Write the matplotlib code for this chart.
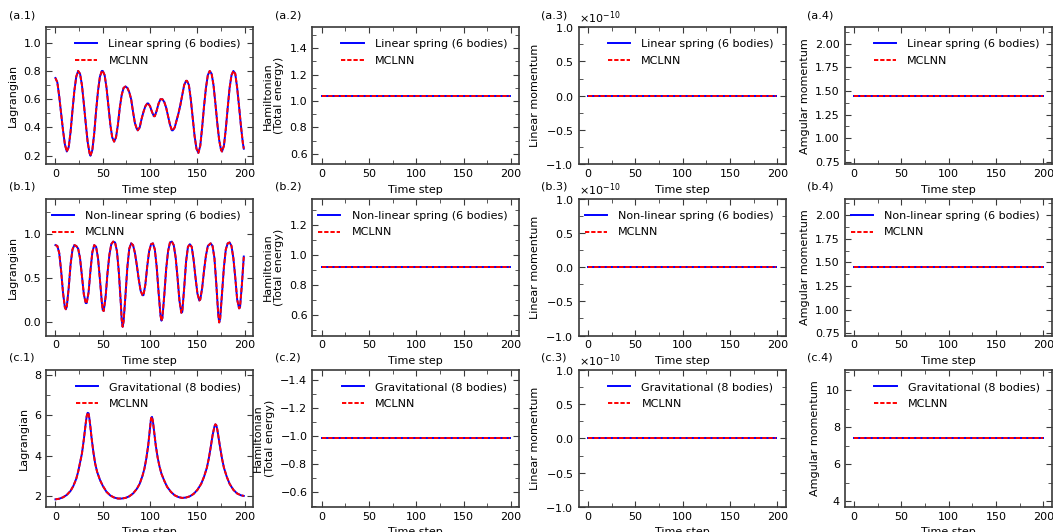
import numpy as np
import matplotlib
matplotlib.use('Agg')
import matplotlib.pyplot as plt
from matplotlib.ticker import MultipleLocator, AutoMinorLocator

### DATA
steps = np.arange(200)

# (a) linear spring, 6 bodies
t_a1 = [0, 2, 4, 6, 8, 10, 12, 14, 16, 18, 20, 22, 24, 26, 28, 30, 32, 34, 36, 37,
        39, 41, 43, 45, 47, 49, 50, 52, 54, 56, 58, 60, 62, 64, 66, 68, 70, 72, 74,
        76, 78, 80, 82, 84, 86, 87, 89, 91, 93, 95, 97, 98, 100, 102, 104, 105, 107,
        109, 111, 113, 115, 117, 119, 121, 123, 124, 126, 128, 130, 132, 134, 136, 138,
        139, 141, 143, 145, 147, 149, 151, 153, 155, 157, 159, 161, 163, 165, 167, 169,
        171, 173, 175, 176, 178, 180, 182, 184, 186, 188, 190, 192, 194, 196, 198, 199]
L_a1 = [0.75, 0.72, 0.62, 0.50, 0.38, 0.28, 0.23, 0.26, 0.37, 0.52, 0.66, 0.76, 0.80,
        0.78, 0.70, 0.57, 0.43, 0.30, 0.22, 0.20, 0.24, 0.36, 0.52, 0.66, 0.76, 0.80,
        0.80, 0.77, 0.68, 0.55, 0.42, 0.33, 0.30, 0.33, 0.42, 0.54, 0.63, 0.68, 0.69,
        0.68, 0.65, 0.60, 0.51, 0.43, 0.39, 0.38, 0.40, 0.46, 0.51, 0.55, 0.57, 0.57,
        0.55, 0.51, 0.48, 0.48, 0.52, 0.57, 0.60, 0.60, 0.58, 0.54, 0.48, 0.42, 0.38,
        0.38, 0.40, 0.45, 0.50, 0.56, 0.63, 0.70, 0.73, 0.73, 0.70, 0.60, 0.47, 0.34,
        0.25, 0.22, 0.27, 0.40, 0.55, 0.68, 0.77, 0.80, 0.78, 0.70, 0.57, 0.43, 0.31,
        0.24, 0.23, 0.27, 0.39, 0.54, 0.68, 0.77, 0.80, 0.78, 0.68, 0.55, 0.41, 0.29, 0.25]
H_a = 1.04
P_a = 0.0
A_a = 1.45

# (b) non-linear spring, 6 bodies
t_b1 = [0, 2, 4, 6, 8, 10, 11, 12, 14, 16, 18, 20, 22, 24, 26, 28, 30, 32, 33, 35, 37,
        39, 41, 43, 45, 47, 49, 50, 51, 53, 55, 57, 59, 61, 63, 65, 67, 69, 70, 71, 72,
        74, 76, 78, 80, 82, 84, 86, 88, 90, 92, 93, 95, 97, 99, 101, 103, 105, 107, 109,
        111, 112, 113, 115, 117, 119, 121, 123, 125, 127, 129, 131, 133, 134, 136, 138,
        140, 142, 144, 146, 148, 150, 152, 153, 155, 157, 159, 161, 164, 166, 168, 170,
        172, 173, 174, 176, 178, 180, 182, 184, 186, 188, 190, 192, 194, 195, 197, 199]
L_b1 = [0.87, 0.86, 0.78, 0.58, 0.33, 0.16, 0.14, 0.17, 0.38, 0.65, 0.82, 0.87, 0.86,
        0.83, 0.72, 0.52, 0.31, 0.21, 0.21, 0.33, 0.58, 0.79, 0.87, 0.85, 0.72, 0.48,
        0.22, 0.13, 0.12, 0.28, 0.55, 0.76, 0.88, 0.91, 0.90, 0.80, 0.56, 0.22, 0.02,
        -0.06, 0.00, 0.30, 0.62, 0.83, 0.89, 0.87, 0.78, 0.64, 0.48, 0.35, 0.30, 0.30,
        0.42, 0.63, 0.80, 0.88, 0.89, 0.82, 0.62, 0.33, 0.07, 0.01, 0.04, 0.30, 0.60,
        0.80, 0.90, 0.91, 0.87, 0.73, 0.50, 0.24, 0.10, 0.11, 0.38, 0.68, 0.85, 0.88,
        0.85, 0.70, 0.50, 0.32, 0.24, 0.25, 0.38, 0.58, 0.75, 0.86, 0.89, 0.86, 0.72,
        0.42, 0.08, -0.01, 0.03, 0.32, 0.62, 0.82, 0.89, 0.90, 0.86, 0.72, 0.50, 0.25,
        0.15, 0.16, 0.42, 0.74]
H_b = 0.92
P_b = 0.0
A_b = 1.45

# (c) gravitational, 8 bodies
t_c1 = [0, 4, 8, 12, 16, 19, 22, 24, 26, 28, 30, 32, 33, 34, 35, 36, 37, 38, 40, 42,
        44, 47, 50, 54, 58, 62, 66, 68, 70, 74, 78, 82, 86, 89, 92, 94, 96, 98, 100,
        101, 102, 103, 104, 106, 108, 110, 112, 115, 118, 122, 126, 130, 134, 138, 142,
        146, 150, 154, 157, 160, 162, 164, 166, 168, 169, 170, 171, 172, 174, 176, 178,
        181, 184, 188, 192, 196, 199]
L_c1 = [1.83, 1.86, 1.93, 2.05, 2.25, 2.50, 2.85, 3.20, 3.65, 4.10, 4.80, 5.60, 5.95,
        6.12, 6.10, 5.80, 5.40, 4.95, 4.20, 3.60, 3.20, 2.80, 2.50, 2.20, 2.02, 1.92,
        1.87, 1.87, 1.87, 1.90, 1.98, 2.12, 2.35, 2.60, 3.00, 3.35, 3.85, 4.50, 5.40,
        5.85, 5.92, 5.70, 5.30, 4.50, 3.90, 3.45, 3.10, 2.75, 2.45, 2.20, 2.03, 1.94,
        1.90, 1.92, 1.98, 2.10, 2.30, 2.60, 2.95, 3.40, 3.85, 4.40, 5.00, 5.45, 5.55,
        5.50, 5.30, 5.00, 4.40, 3.85, 3.40, 2.95, 2.60, 2.30, 2.12, 2.03, 2.00]
H_c = -0.98
P_c = 0.0
A_c = 7.4

rows = ['a', 'b', 'c']
systems = ['Linear spring (6 bodies)', 'Non-linear spring (6 bodies)', 'Gravitational (8 bodies)']
lagr_t = [t_a1, t_b1, t_c1]
lagr = [L_a1, L_b1, L_c1]
ham = [H_a, H_b, H_c]
linmom = [P_a, P_b, P_c]
angmom = [A_a, A_b, A_c]

# axis limits / ticks
lagr_ylim = [(0.14, 1.11), (-0.16, 1.40), (1.45, 8.25)]
lagr_step = [0.2, 0.5, 2]
ham_ylim = [(0.52, 1.56), (0.46, 1.38), (-0.49, -1.47)]
ang_ylim = [(0.725, 2.175), (0.725, 2.175), (3.7, 11.1)]
ang_step = [0.25, 0.25, 2]

plt.rcParams.update({
    'font.size': 8,
    'axes.edgecolor': '#3a3a3a',
    'axes.linewidth': 1.2,
    'xtick.direction': 'in', 'ytick.direction': 'in',
    'xtick.top': True, 'ytick.right': True,
    'xtick.major.size': 4.5, 'ytick.major.size': 4.5,
    'xtick.minor.size': 3, 'ytick.minor.size': 3,
    'xtick.color': '#3a3a3a', 'ytick.color': '#3a3a3a',
    'xtick.labelcolor': 'black', 'ytick.labelcolor': 'black',
})

fig, axes = plt.subplots(3, 4, figsize=(10.53, 5.32), dpi=100)
fig.subplots_adjust(left=0.0437, right=0.999, top=0.949, bottom=0.047,
                    wspace=0.285, hspace=0.25)

dash = (0, (2.2, 1.0))
for i in range(3):
    const_series = [[ham[i]] * len(steps), [linmom[i]] * len(steps), [angmom[i]] * len(steps)]
    for j in range(4):
        ax = axes[i, j]
        if j == 0:
            x = lagr_t[i]
            y = lagr[i]
        else:
            x = steps
            y = const_series[j - 1]
        ax.plot(x, y, color='blue', lw=1.4, label=systems[i])
        ax.plot(x, y, color='red', lw=1.4, ls=dash, label='MCLNN')
        ax.legend(loc='upper right', frameon=False, fontsize=8,
                  handletextpad=1.0, borderaxespad=0.7, labelspacing=0.6)
        ax.set_xlabel('Time step')
        ax.xaxis.set_major_locator(MultipleLocator(50))
        ax.xaxis.set_minor_locator(AutoMinorLocator(2))
        ax.text(-0.18, 1.088, '(%s.%d)' % (rows[i], j + 1), transform=ax.transAxes,
                ha='left', va='center')
        if j == 0:
            ax.set_ylim(*lagr_ylim[i])
            ax.yaxis.set_major_locator(MultipleLocator(lagr_step[i]))
            ax.set_ylabel('Lagrangian')
        elif j == 1:
            ax.set_ylim(*ham_ylim[i])
            ax.yaxis.set_major_locator(MultipleLocator(0.2))
            ax.set_ylabel('Hamiltonian\n(Total energy)')
        elif j == 2:
            ax.set_ylim(-1e-10, 1e-10)
            ax.yaxis.set_major_locator(MultipleLocator(0.5e-10))
            ax.ticklabel_format(axis='y', style='sci', scilimits=(0, 0), useMathText=True)
            ax.set_ylabel('Linear momentum')
        else:
            ax.set_ylim(*ang_ylim[i])
            ax.yaxis.set_major_locator(MultipleLocator(ang_step[i]))
            ax.set_ylabel('Amgular momentum')
        ax.yaxis.set_minor_locator(AutoMinorLocator(2))

plt.savefig('out.png', dpi=100)
